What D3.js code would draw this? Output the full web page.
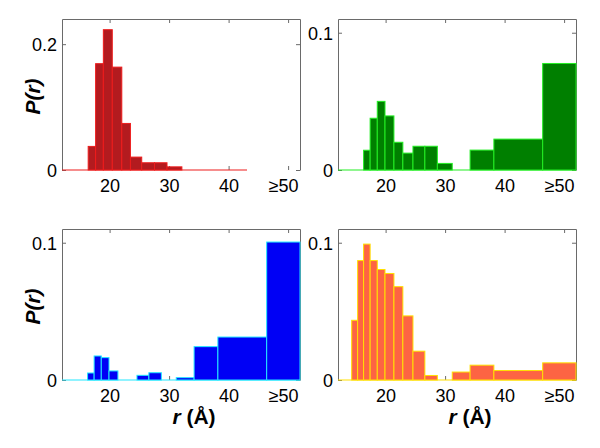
<!DOCTYPE html>
<html>
<head>
<meta charset="utf-8">
<script src="https://cdn.jsdelivr.net/npm/d3@7"></script>
<style>
  html, body { margin: 0; padding: 0; background: #fff; }
  svg { display: block; }
  text { font-family: "Liberation Sans", Arial, Helvetica, sans-serif; }
</style>
</head>
<body>
<svg id="chart" width="600" height="448"></svg>
<script>
// ---- data ----
const xTicks = [20, 30, 40, 50];
const xTickLabels = ["20", "30", "40", "≥50"];

// bin edges (Å)
const edgesRed = [16.4, 17.65, 18.95, 20.45, 22.05, 23.5, 25.4, 27.55, 29.65, 32.15];
const edgesCommon = [14.3, 15.3, 16.3, 17.4, 18.6, 19.9, 21.4, 22.9, 24.6, 26.6, 28.7, 31.2, 34.2, 38.2, 46.4, 52];

// P(r) values per bin
const valuesRed    = [0.0375, 0.169, 0.223, 0.1635, 0.074, 0.0205, 0.0115, 0.0115, 0.005];
const valuesGreen  = [0, 0, 0.0144, 0.0377, 0.050, 0.0394, 0.0202, 0.0123, 0.0173, 0.0173, 0.0048, 0, 0.0145, 0.0225, 0.0776];
const valuesBlue   = [0, 0, 0.0051, 0.0175, 0.0163, 0.0066, 0, 0, 0.0034, 0.0053, 0, 0.0017, 0.0243, 0.0313, 0.1005];
const valuesOrange = [0.0435, 0.087, 0.099, 0.087, 0.0805, 0.0776, 0.068, 0.0467, 0.021, 0.0033, 0, 0.0058, 0.0108, 0.0069, 0.0125];

const yTicksRed = [0, 0.2];
const yTicksOther = [0, 0.1];
const xDomain = [12, 52];

// ---- layout / style ----
const panels = [
  { left: 62,  top: 19,  edges: edgesRed,    values: valuesRed,    yMax: 0.24, yTicks: yTicksRed,   fill: "#b31b1f", stroke: "#ee1c1c", lineEnd: 43.1, ylabel: true,  xlabel: false },
  { left: 338, top: 19,  edges: edgesCommon, values: valuesGreen,  yMax: 0.11, yTicks: yTicksOther, fill: "#007f00", stroke: "#22ee22", lineEnd: 52,   ylabel: false, xlabel: false },
  { left: 62,  top: 229, edges: edgesCommon, values: valuesBlue,   yMax: 0.11, yTicks: yTicksOther, fill: "#0000f5", stroke: "#22e8ff", lineEnd: 52,   ylabel: true,  xlabel: true  },
  { left: 338, top: 229, edges: edgesCommon, values: valuesOrange, yMax: 0.11, yTicks: yTicksOther, fill: "#fd6443", stroke: "#ffe000", lineEnd: 52,   ylabel: false, xlabel: true  }
];
const PW = 238, PH = 151;
const frameColor = "#6a6a6a";
const tickFont = 18;

const svg = d3.select("#chart");

function fmtY(d) { return d === 0 ? "0" : d3.format(".1f")(d); }

panels.forEach(p => {
  const g = svg.append("g").attr("transform", `translate(${p.left},${p.top})`);
  const x = d3.scaleLinear().domain(xDomain).range([0, PW]);
  const y = d3.scaleLinear().domain([0, p.yMax]).range([PH, 0]);

  const ax = g.append("g").call(
    d3.axisLeft(y).tickValues(p.yTicks).tickFormat(fmtY)
      .tickSizeInner(-4).tickSizeOuter(0).tickPadding(5)
  );
  const ar = g.append("g").attr("transform", `translate(${PW},0)`).call(
    d3.axisRight(y).tickValues(p.yTicks).tickFormat("")
      .tickSizeInner(-4).tickSizeOuter(0)
  );
  const at = g.append("g").call(
    d3.axisTop(x).tickValues(xTicks).tickFormat("")
      .tickSizeInner(-4).tickSizeOuter(0)
  );
  const ab = g.append("g").attr("transform", `translate(0,${PH})`).call(
    d3.axisBottom(x).tickValues(xTicks).tickFormat((d, i) => xTickLabels[i])
      .tickSizeInner(-4).tickSizeOuter(0).tickPadding(9)
  );
  ab.select(".domain").remove();

  [ax, ar, at, ab].forEach(a => {
    a.selectAll("path.domain").attr("stroke", frameColor).attr("stroke-width", 1);
    a.selectAll(".tick line").attr("stroke", frameColor);
    a.selectAll("text").attr("font-size", tickFont).attr("fill", "#000")
      .style("font-family", '"Liberation Sans", Arial, Helvetica, sans-serif');
  });
  ax.selectAll(".tick text").attr("dy", "0.36em");

  // shift "≥50" so that "50" is centered on its tick
  ab.selectAll(".tick text").each(function(d, i) {
    const t = d3.select(this);
    const label = xTickLabels[i];
    if (label.startsWith("≥")) {
      const tmp = g.append("text").attr("font-size", tickFont).text("≥");
      const w = tmp.node().getComputedTextLength();
      tmp.remove();
      t.attr("dx", (-w / 2).toFixed(2));
    }
  });

  // baseline (zero-height bins)
  g.append("line")
    .attr("x1", x(xDomain[0])).attr("x2", x(p.lineEnd))
    .attr("y1", y(0)).attr("y2", y(0))
    .attr("stroke", p.stroke).attr("stroke-width", 1.2);

  // bars
  const bins = p.values.map((v, i) => ({ x0: p.edges[i], x1: p.edges[i + 1], v }));
  g.selectAll("rect.bar").data(bins.filter(b => b.v > 0)).join("rect")
    .attr("class", "bar")
    .attr("x", b => x(b.x0))
    .attr("width", b => x(b.x1) - x(b.x0))
    .attr("y", b => y(b.v))
    .attr("height", b => y(0) - y(b.v))
    .attr("fill", p.fill)
    .attr("stroke", p.stroke)
    .attr("stroke-width", 1);

  if (p.ylabel) {
    svg.append("text")
      .attr("transform", `translate(${p.left - 22.5},${p.top + PH / 2 + 2}) rotate(-90)`)
      .attr("text-anchor", "middle")
      .attr("font-size", 21).attr("font-weight", "bold").attr("font-style", "italic")
      .text("P(r)");
  }
  if (p.xlabel) {
    const t = svg.append("text")
      .attr("x", p.left + PW / 2 + 13).attr("y", p.top + PH + 44)
      .attr("text-anchor", "middle")
      .attr("font-size", 21).attr("font-weight", "bold");
    t.append("tspan").attr("font-style", "italic").text("r");
    t.append("tspan").text(" (Å)");
  }
});
</script>
</body>
</html>
